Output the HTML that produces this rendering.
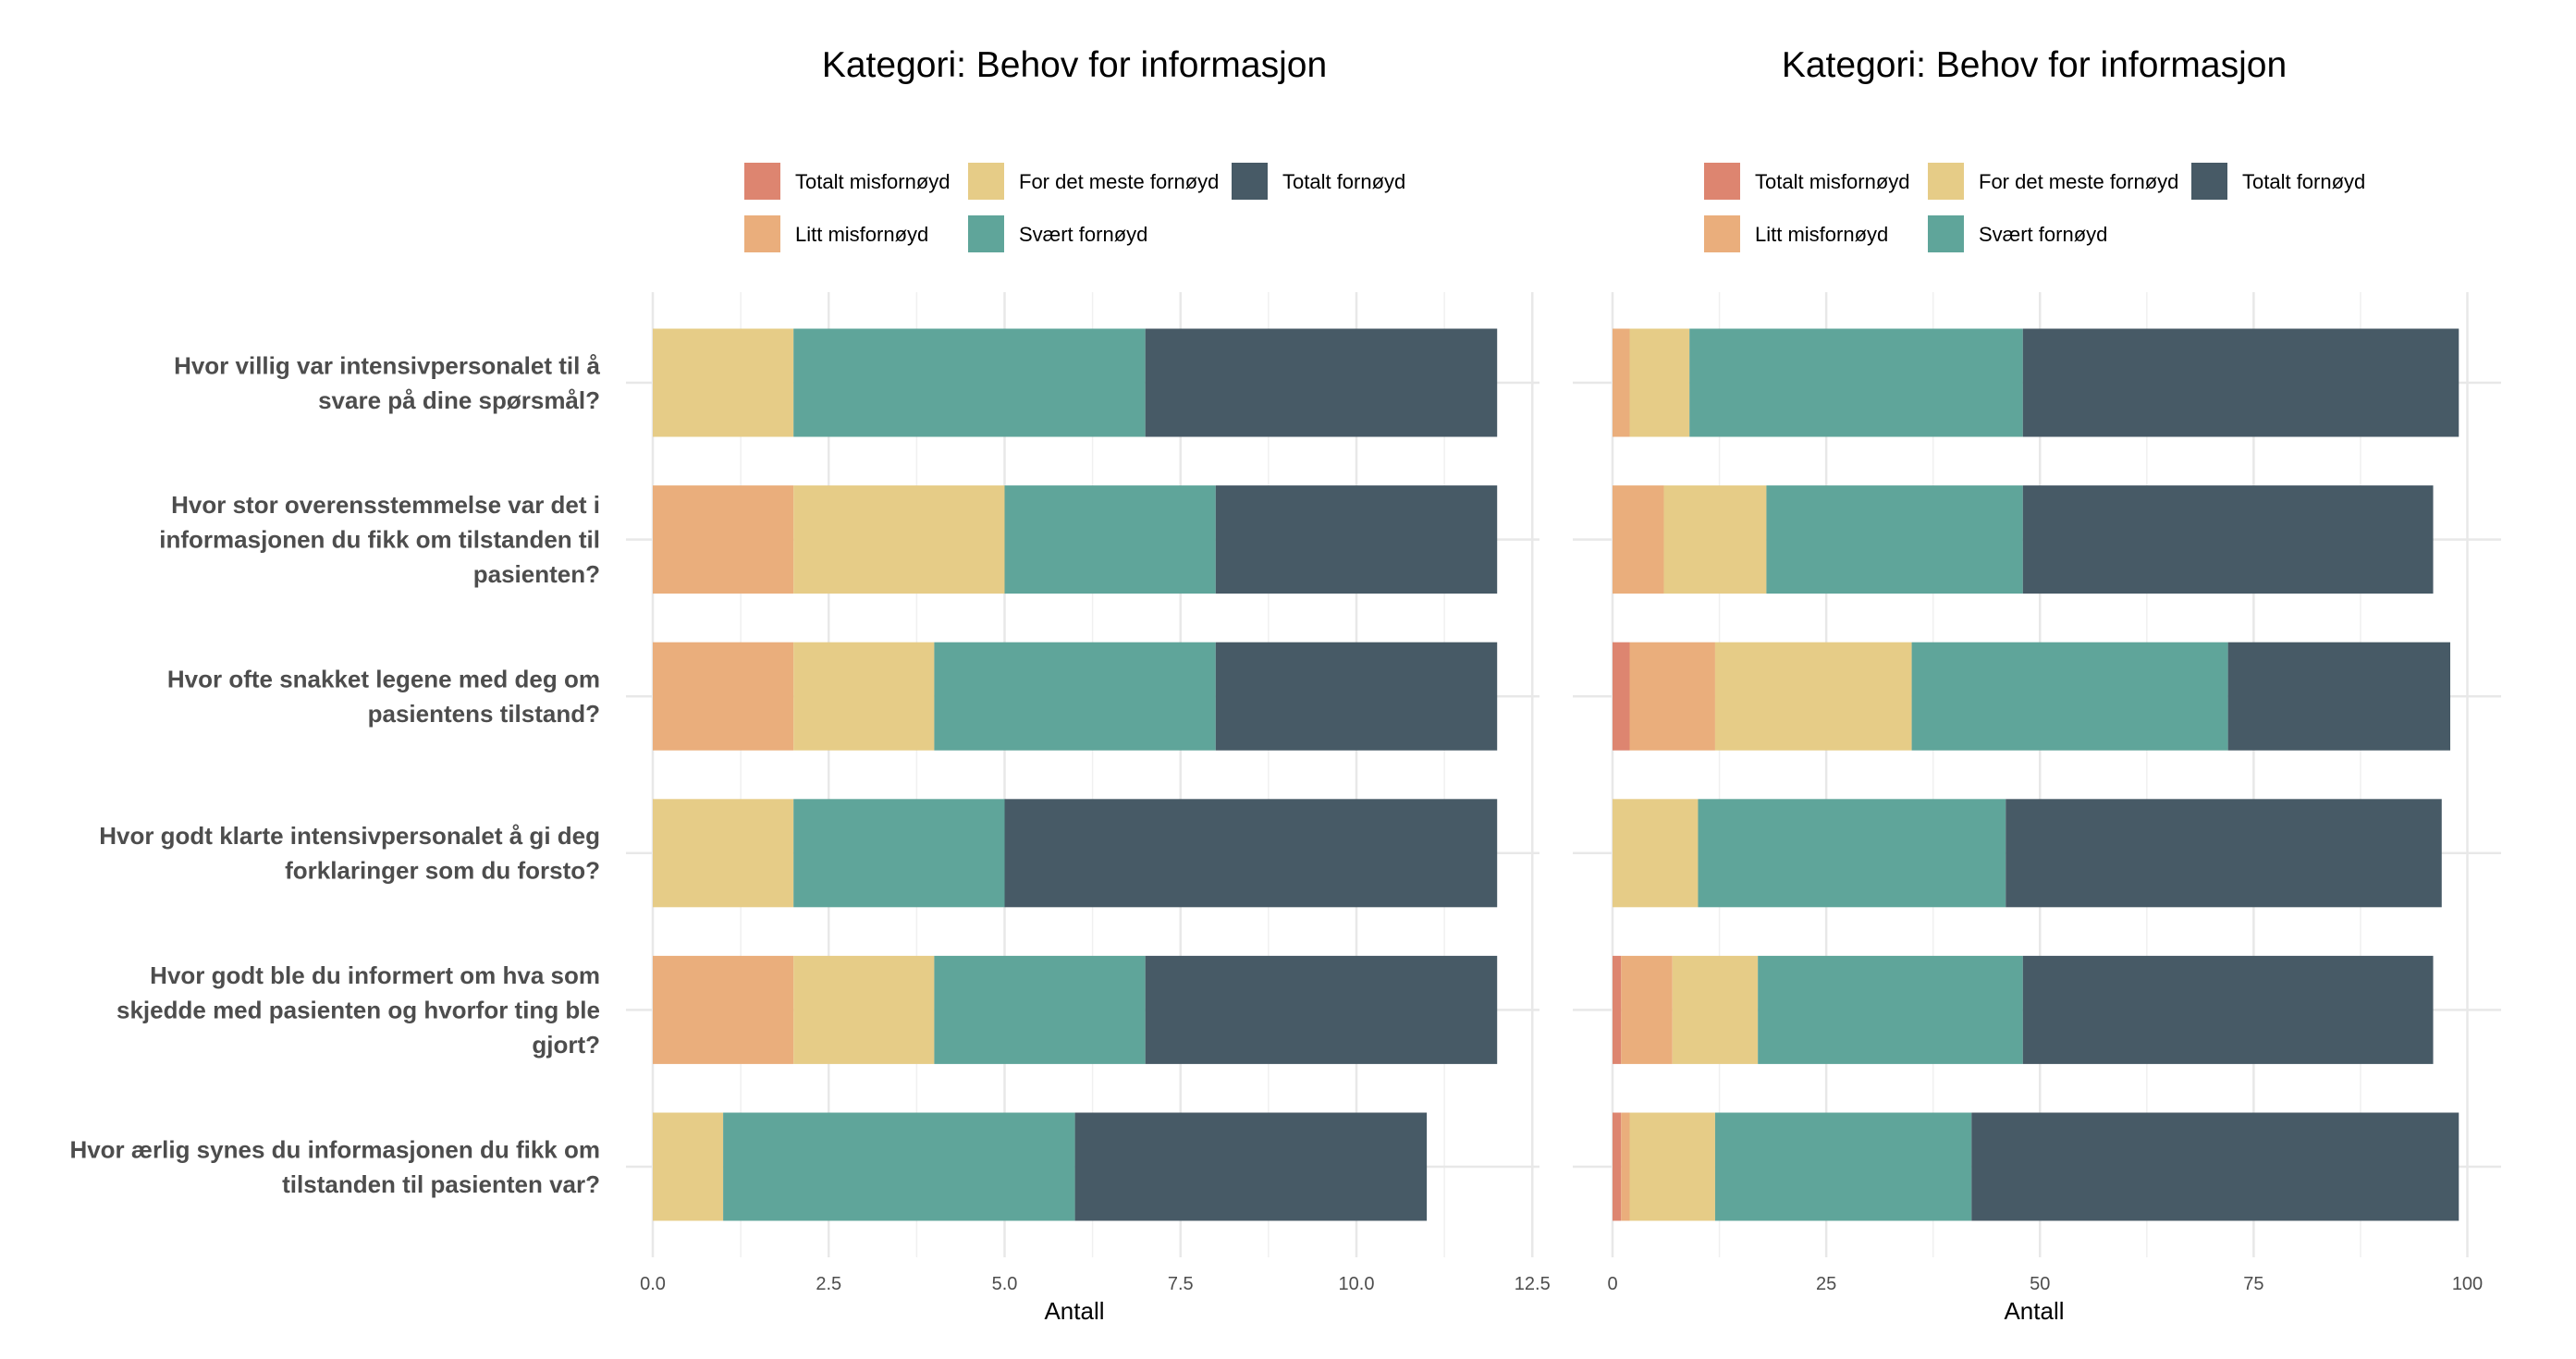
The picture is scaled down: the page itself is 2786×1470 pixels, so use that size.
<!DOCTYPE html>
<html><head><meta charset="utf-8"><style>
html,body{margin:0;padding:0;background:#fff;}
svg{display:block;font-family:"Liberation Sans",sans-serif;}
</style></head><body>
<svg id="chart" width="2786" height="1470" viewBox="0 0 2786 1470"></svg>
<script>
const categories = [
 ["Hvor villig var intensivpersonalet til å","svare på dine spørsmål?"],
 ["Hvor stor overensstemmelse var det i","informasjonen du fikk om tilstanden til","pasienten?"],
 ["Hvor ofte snakket legene med deg om","pasientens tilstand?"],
 ["Hvor godt klarte intensivpersonalet å gi deg","forklaringer som du forsto?"],
 ["Hvor godt ble du informert om hva som","skjedde med pasienten og hvorfor ting ble","gjort?"],
 ["Hvor ærlig synes du informasjonen du fikk om","tilstanden til pasienten var?"]
];
const seriesNames = ["Totalt misfornøyd","Litt misfornøyd","For det meste fornøyd","Svært fornøyd","Totalt fornøyd"];
const seriesColors = ["#dd8570","#eaae7c","#e6cc87","#5fa59a","#475a66"];
// left panel values: [Totalt mis, Litt mis, For det meste, Svært, Totalt fornøyd]
const leftValues = [
 [0,0,2,5,5],[0,2,3,3,4],[0,2,2,4,4],[0,0,2,3,7],[0,2,2,3,5],[0,0,1,5,5]
];
const rightValues = [
 [0,2,7,39,51],[0,6,12,30,48],[2,10,23,37,26],[0,0,10,36,51],[1,6,10,31,48],[1,1,10,30,57]
];
const leftTicks = ["0.0","2.5","5.0","7.5","10.0","12.5"];
const leftTickVals = [0,2.5,5,7.5,10,12.5];
const rightTicks = ["0","25","50","75","100"];
const rightTickVals = [0,25,50,75,100];

const NS="http://www.w3.org/2000/svg";
const svg=document.getElementById('chart');
function mk(tag,attrs,parent){const e=document.createElementNS(NS,tag);for(const k in attrs)e.setAttribute(k,attrs[k]);(parent||svg).appendChild(e);return e;}

const yTop=316,yBot=1360,y0=414,yStep=169.6,barH=117;
function yPos(i){return y0+i*yStep;}

function panel(name,x0,pxPerUnit,gridL,gridR,values,ticks,tickVals,minorStep,maxVal,titleX,legendX){
  const g=mk('g',{});
  
  
  const xs=v=>x0+v*pxPerUnit;
  for(let v=minorStep/2; v<=maxVal; v+=minorStep){
    const l=mk('line',{x1:xs(v),x2:xs(v),y1:yTop,y2:yBot,stroke:'#f0f0f0','stroke-width':1.5},g);
    
  }
  tickVals.forEach(v=>{
    const l=mk('line',{x1:xs(v),x2:xs(v),y1:yTop,y2:yBot,stroke:'#e8e8e8','stroke-width':2.5},g);
    
  });
  categories.forEach((c,i)=>{
    const l=mk('line',{x1:gridL,x2:gridR,y1:yPos(i),y2:yPos(i),stroke:'#e8e8e8','stroke-width':2.5},g);
    
  });
  values.forEach((row,i)=>{
    let acc=0;
    row.forEach((v,s)=>{
      if(v>0){
        const r=mk('rect',{x:xs(acc),y:yPos(i)-barH/2,width:v*pxPerUnit,height:barH,fill:seriesColors[s]},g);
        
        
      }
      acc+=v;
    });
  });
  ticks.forEach((t,k)=>{
    const tx=mk('text',{x:xs(tickVals[k]),y:1395,'font-size':20,fill:'#4d4d4d','text-anchor':'middle'},g);
    tx.textContent=t;
    
  });
  const xt=mk('text',{x:titleX,y:1427,'font-size':26,fill:'#000','text-anchor':'middle'},g);
  xt.textContent='Antall';
  
  const tt=mk('text',{x:titleX,y:83,'font-size':39,fill:'#000','text-anchor':'middle'},g);
  tt.textContent='Kategori: Behov for informasjon';
  
  const pos=[[0,0],[0,1],[1,0],[1,1],[2,0]];
  const colX=[0,242,527];
  seriesNames.forEach((n,s)=>{
    const [c,r]=pos[s];
    const lx=legendX+colX[c], ly=176+r*57;
    const le=mk('g',{},g);
    
    mk('rect',{x:lx,y:ly,width:39,height:40,fill:seriesColors[s]},le);
    const lt=mk('text',{x:lx+55,y:ly+28,'font-size':22,fill:'#000'},le);
    lt.textContent=n;
  });
}
panel('left',706,76.1,677,1665,leftValues,leftTicks,leftTickVals,2.5,12.5,1162,805);
panel('right',1744,9.245,1701,2705,rightValues,rightTicks,rightTickVals,25,100,2200,1843);

categories.forEach((lines,i)=>{
  const n=lines.length, lh=37.5;
  const start=yPos(i)-(n-1)*lh/2+9;
  const t=mk('text',{'font-size':26,'font-weight':'bold',fill:'#4d4d4d','text-anchor':'end'});
  
  
  lines.forEach((ln,k)=>{const ts=mk('tspan',{x:649,y:start+k*lh},t);ts.textContent=ln;});
});
</script>
</body></html>
